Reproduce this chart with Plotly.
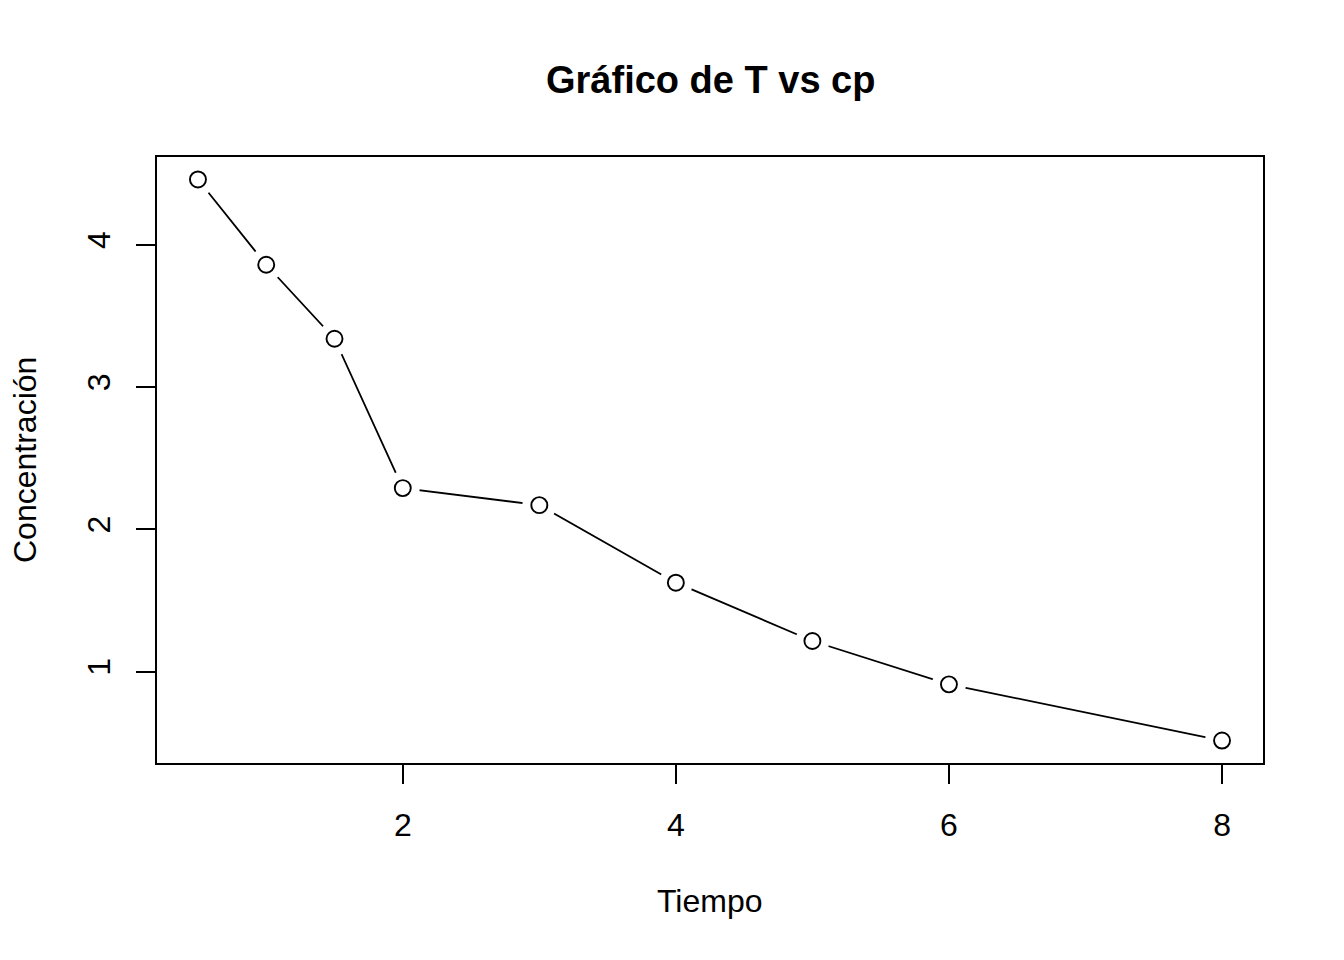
import plotly.graph_objects as go

tiempo = [0.5, 1, 1.5, 2, 3, 4, 5, 6, 8]
concentracion = [4.46, 3.86, 3.34, 2.29, 2.17, 1.625, 1.215, 0.91, 0.515]
x_ticks = [2, 4, 6, 8]
y_ticks = [1, 2, 3, 4]

FONT = "Liberation Sans, Arial, Helvetica, sans-serif"

fig = go.Figure()
# connecting line
fig.add_trace(go.Scatter(x=tiempo, y=concentracion, mode="lines",
                         line=dict(color="black", width=1.8), hoverinfo="skip"))
# white masks to produce gaps (R type="b")
fig.add_trace(go.Scatter(x=tiempo, y=concentracion, mode="markers",
                         marker=dict(symbol="circle", size=34, color="white",
                                     line=dict(width=0)), hoverinfo="skip"))
# open circles
fig.add_trace(go.Scatter(x=tiempo, y=concentracion, mode="markers",
                         marker=dict(symbol="circle", size=16, color="white",
                                     line=dict(color="black", width=1.9))))

rx = max(tiempo) - min(tiempo)
ry = max(concentracion) - min(concentracion)

fig.update_layout(
    width=1344, height=960,
    paper_bgcolor="white", plot_bgcolor="white",
    showlegend=False,
    margin=dict(l=157, r=81, t=157, b=197),
    font=dict(family=FONT, size=32, color="black"),
    xaxis=dict(range=[min(tiempo) - 0.04 * rx, max(tiempo) + 0.04 * rx],
               tickvals=x_ticks, ticktext=[str(v) for v in x_ticks],
               ticks="outside", ticklen=19, tickwidth=1.8, tickcolor="black",
               showline=True, linecolor="black", linewidth=1.8, mirror=True,
               showgrid=False, zeroline=False, ticklabelstandoff=14,
               tickfont=dict(size=32, family=FONT)),
    yaxis=dict(range=[min(concentracion) - 0.04 * ry, max(concentracion) + 0.04 * ry],
               tickvals=y_ticks, ticktext=[str(v) for v in y_ticks],
               ticks="outside", ticklen=19, tickwidth=1.8, tickcolor="black",
               showline=True, linecolor="black", linewidth=1.8, mirror=True,
               showgrid=False, zeroline=False, tickangle=-90, ticklabelstandoff=13,
               tickfont=dict(size=32, family=FONT)),
    annotations=[
        dict(text="<b>Gráfico de T vs cp</b>", xref="paper", yref="paper",
             x=0.5, y=1, yshift=77, xanchor="center", yanchor="middle",
             showarrow=False, font=dict(size=38, family=FONT)),
        dict(text="Tiempo", xref="paper", yref="paper",
             x=0.5, y=0, yshift=-138, xanchor="center", yanchor="middle",
             showarrow=False, font=dict(size=32, family=FONT)),
        dict(text="Concentración", xref="paper", yref="paper",
             x=0, y=0.5, xshift=-132, xanchor="center", yanchor="middle",
             textangle=-90, showarrow=False, font=dict(size=32, family=FONT)),
    ],
)

fig.write_html("out.html", config={"displayModeBar": False},
               post_script="document.body.style.margin='0';")
